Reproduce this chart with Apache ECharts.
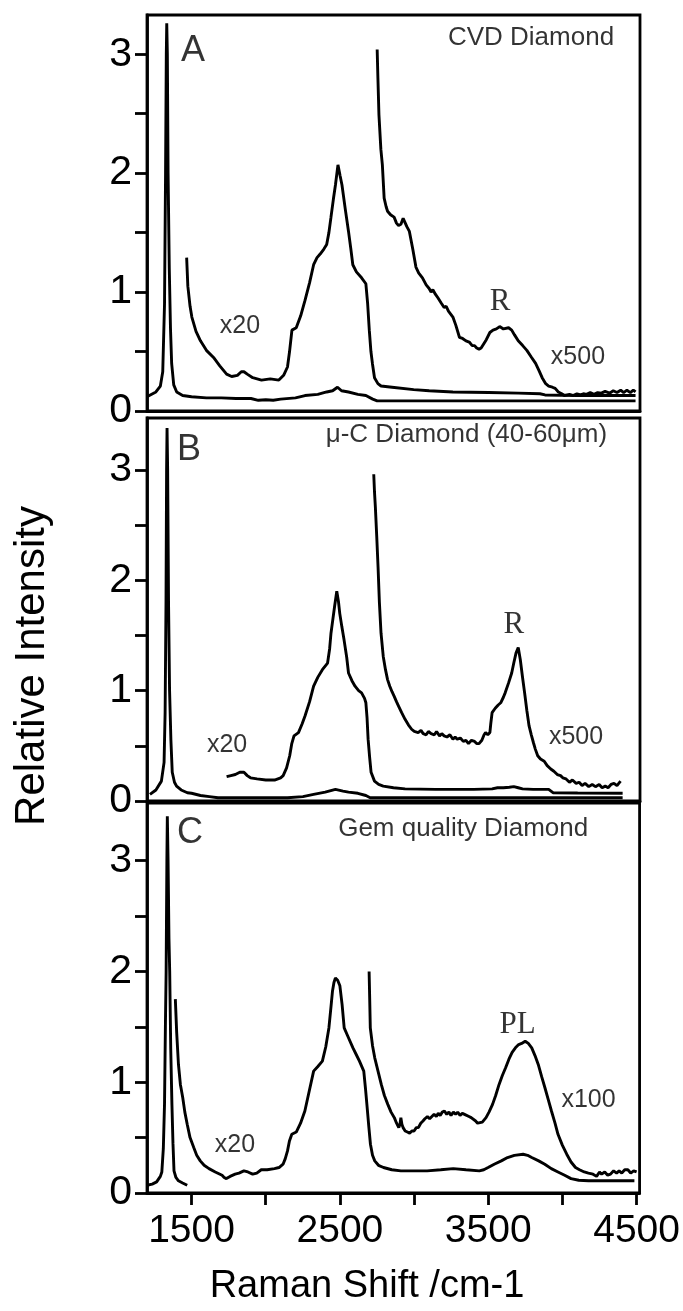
<!DOCTYPE html>
<html>
<head>
<meta charset="utf-8">
<script src="https://cdn.jsdelivr.net/npm/echarts@6/dist/echarts.min.js"></script>
<style>
  html, body { margin: 0; padding: 0; background: #fff; }
  #chart { width: 683px; height: 1311px; }
</style>
</head>
<body>
<div id="chart"></div>
<script>
// Raman shift axis (cm-1) and tick values
const xRange = [1200, 4520];
const xTicks = [1500, 2000, 2500, 3000, 3500, 4000, 4500];
const xLabels = [1500, 2500, 3500, 4500];
const yTicks = [0, 0.5, 1, 1.5, 2, 2.5, 3];
const yLabels = [0, 1, 2, 3];
const yMax = [3.33, 3.47, 3.52];

// Panel A: CVD diamond
const cvdMain = [[1200,0.12],[1209,0.13],[1260,0.16],[1290,0.21],[1306,0.33],[1318,0.9],[1325,2.0],[1330,3.0],[1333,3.26],[1337,3.0],[1342,2.0],[1350,1.2],[1358,0.7],[1366,0.4],[1380,0.22],[1400,0.16],[1440,0.13],[1500,0.12],[1600,0.11],[1700,0.11],[1800,0.105],[1900,0.105],[1950,0.09],[2000,0.095],[2050,0.09],[2100,0.1],[2200,0.11],[2264,0.13],[2350,0.14],[2410,0.16],[2450,0.17],[2483,0.2],[2510,0.17],[2557,0.16],[2620,0.14],[2674,0.13],[2720,0.1],[2750,0.085],[3000,0.085],[3500,0.085],[4000,0.085],[4490,0.085]];
const cvdX20 = [[1467,1.29],[1475,1.05],[1490,0.88],[1502,0.79],[1530,0.67],[1560,0.59],[1600,0.51],[1648,0.45],[1690,0.38],[1736,0.31],[1770,0.29],[1809,0.30],[1835,0.33],[1853,0.33],[1875,0.31],[1912,0.28],[1971,0.26],[2030,0.27],[2088,0.26],[2120,0.3],[2146,0.37],[2160,0.5],[2176,0.68],[2205,0.70],[2235,0.8],[2264,0.93],[2295,1.08],[2322,1.23],[2345,1.29],[2366,1.32],[2390,1.36],[2410,1.40],[2425,1.5],[2439,1.63],[2455,1.78],[2469,1.90],[2486,2.07],[2500,1.98],[2513,1.90],[2535,1.7],[2557,1.51],[2572,1.37],[2586,1.23],[2610,1.17],[2645,1.12],[2674,1.07],[2686,0.9],[2697,0.68],[2708,0.5],[2718,0.40],[2732,0.28],[2755,0.23],[2776,0.21],[2850,0.20],[2996,0.18],[3100,0.17],[3260,0.16],[3500,0.155],[3700,0.15],[3846,0.145],[3880,0.135],[4100,0.13],[4490,0.13]];
const cvdX500 = [[2750,3.04],[2755,2.8],[2762,2.49],[2775,2.2],[2785,2.07],[2797,1.79],[2810,1.72],[2820,1.68],[2840,1.65],[2864,1.63],[2880,1.58],[2894,1.56],[2910,1.57],[2925,1.62],[2938,1.61],[2950,1.55],[2967,1.51],[2990,1.36],[3011,1.21],[3030,1.16],[3055,1.12],[3080,1.06],[3100,1.03],[3113,1.00],[3125,1.02],[3143,0.98],[3160,0.95],[3180,0.91],[3201,0.87],[3215,0.88],[3230,0.84],[3260,0.79],[3280,0.72],[3304,0.62],[3325,0.61],[3348,0.59],[3370,0.58],[3390,0.55],[3406,0.55],[3420,0.53],[3436,0.52],[3450,0.53],[3465,0.56],[3485,0.6],[3509,0.66],[3530,0.68],[3553,0.69],[3575,0.71],[3600,0.69],[3612,0.70],[3635,0.7],[3656,0.68],[3675,0.64],[3700,0.59],[3730,0.55],[3758,0.51],[3790,0.45],[3817,0.40],[3840,0.34],[3861,0.28],[3885,0.23],[3905,0.21],[3930,0.2],[3949,0.19],[3970,0.16],[3993,0.145],[4010,0.13],[4022,0.126],[4045,0.14],[4070,0.13],[4095,0.145],[4120,0.135],[4139,0.145],[4160,0.14],[4185,0.155],[4210,0.14],[4235,0.155],[4260,0.15],[4285,0.165],[4315,0.15],[4340,0.17],[4365,0.155],[4390,0.175],[4410,0.155],[4432,0.175],[4455,0.155],[4475,0.175],[4490,0.16]];

// Panel B: micro-crystalline diamond
const mcMain = [[1220,0.06],[1260,0.1],[1297,0.18],[1315,0.35],[1322,0.8],[1328,1.8],[1332,3.0],[1335,3.38],[1339,3.0],[1345,1.8],[1352,1.0],[1361,0.55],[1370,0.26],[1385,0.17],[1399,0.135],[1430,0.1],[1472,0.075],[1500,0.07],[1560,0.05],[1620,0.04],[1678,0.03],[2000,0.03],[2146,0.03],[2250,0.04],[2322,0.06],[2400,0.08],[2469,0.105],[2520,0.09],[2557,0.08],[2620,0.07],[2674,0.05],[2703,0.03],[3000,0.03],[3500,0.03],[4000,0.03],[4403,0.03]];
const mcX20 = [[1736,0.22],[1765,0.23],[1795,0.24],[1825,0.26],[1853,0.26],[1875,0.23],[1897,0.21],[1941,0.20],[2000,0.19],[2059,0.19],[2100,0.21],[2117,0.23],[2140,0.3],[2161,0.41],[2175,0.52],[2190,0.59],[2220,0.62],[2245,0.7],[2264,0.77],[2295,0.9],[2322,1.04],[2350,1.12],[2381,1.19],[2416,1.25],[2430,1.38],[2439,1.52],[2452,1.65],[2463,1.76],[2478,1.90],[2490,1.8],[2498,1.70],[2512,1.58],[2527,1.46],[2545,1.3],[2557,1.16],[2580,1.09],[2601,1.04],[2625,1.0],[2645,0.98],[2665,0.93],[2674,0.89],[2682,0.75],[2689,0.56],[2699,0.4],[2709,0.26],[2732,0.18],[2760,0.15],[2791,0.135],[2860,0.12],[2938,0.11],[3143,0.105],[3400,0.105],[3524,0.11],[3560,0.12],[3600,0.12],[3640,0.125],[3670,0.13],[3700,0.12],[3729,0.11],[3800,0.105],[3905,0.105],[3934,0.075],[4100,0.072],[4403,0.07]];
const mcX500 = [[2727,2.96],[2732,2.8],[2738,2.66],[2747,2.4],[2756,2.12],[2765,1.8],[2776,1.52],[2791,1.31],[2806,1.19],[2820,1.1],[2835,1.04],[2850,0.99],[2864,0.95],[2880,0.9],[2894,0.86],[2915,0.8],[2938,0.74],[2960,0.69],[2982,0.65],[3000,0.63],[3026,0.62],[3045,0.64],[3060,0.61],[3080,0.6],[3095,0.63],[3113,0.61],[3135,0.6],[3150,0.63],[3170,0.59],[3185,0.61],[3201,0.59],[3220,0.58],[3240,0.6],[3260,0.56],[3275,0.58],[3289,0.56],[3310,0.57],[3330,0.54],[3348,0.55],[3365,0.52],[3385,0.55],[3406,0.54],[3420,0.52],[3436,0.52],[3455,0.55],[3470,0.6],[3480,0.62],[3495,0.6],[3509,0.62],[3515,0.7],[3524,0.80],[3545,0.84],[3565,0.87],[3582,0.89],[3600,0.94],[3612,0.98],[3635,1.07],[3656,1.16],[3670,1.25],[3685,1.34],[3700,1.39],[3714,1.28],[3728,1.13],[3743,0.98],[3758,0.82],[3773,0.68],[3788,0.6],[3802,0.53],[3815,0.47],[3831,0.41],[3850,0.38],[3875,0.36],[3895,0.32],[3919,0.29],[3940,0.27],[3963,0.24],[3985,0.23],[4000,0.21],[4022,0.20],[4045,0.17],[4065,0.19],[4090,0.16],[4110,0.17],[4130,0.14],[4150,0.16],[4175,0.13],[4198,0.15],[4220,0.13],[4245,0.15],[4265,0.12],[4286,0.135],[4305,0.12],[4325,0.15],[4345,0.16],[4365,0.14],[4389,0.18]];

// Panel C: gem quality diamond
const gemMain = [[1200,0.07],[1235,0.08],[1265,0.10],[1290,0.15],[1300,0.19],[1310,0.4],[1318,0.80],[1324,1.5],[1329,2.0],[1334,3.0],[1337,3.4],[1342,3.0],[1348,2.3],[1353,2.0],[1360,1.3],[1368,0.80],[1375,0.45],[1382,0.20],[1395,0.14],[1412,0.11],[1440,0.09],[1471,0.07]];
const gemX20 = [[1391,1.75],[1400,1.45],[1412,1.16],[1425,0.98],[1441,0.86],[1455,0.73],[1471,0.62],[1490,0.5],[1515,0.41],[1535,0.34],[1559,0.29],[1585,0.25],[1618,0.22],[1660,0.19],[1706,0.16],[1720,0.14],[1735,0.13],[1760,0.15],[1794,0.17],[1820,0.18],[1853,0.20],[1880,0.19],[1912,0.17],[1940,0.18],[1970,0.21],[2010,0.21],[2059,0.22],[2090,0.23],[2117,0.26],[2132,0.31],[2147,0.38],[2160,0.47],[2176,0.53],[2206,0.55],[2235,0.63],[2264,0.74],[2295,0.93],[2323,1.10],[2350,1.14],[2382,1.19],[2405,1.32],[2426,1.49],[2440,1.68],[2450,1.82],[2460,1.9],[2470,1.94],[2485,1.92],[2500,1.87],[2515,1.7],[2529,1.49],[2555,1.41],[2588,1.31],[2610,1.25],[2632,1.19],[2661,1.10],[2672,0.95],[2682,0.80],[2695,0.6],[2706,0.44],[2720,0.34],[2735,0.29],[2760,0.25],[2794,0.23],[2850,0.21],[2911,0.20],[3000,0.2],[3088,0.20],[3180,0.21],[3264,0.22],[3350,0.21],[3440,0.20],[3470,0.21],[3499,0.23],[3540,0.26],[3588,0.29],[3630,0.32],[3676,0.34],[3735,0.35],[3765,0.34],[3793,0.32],[3840,0.29],[3881,0.26],[3925,0.22],[3970,0.19],[4015,0.16],[4058,0.13],[4110,0.115],[4176,0.11],[4323,0.11],[4485,0.11]];
const gemX100 = [[2697,2.0],[2701,1.75],[2705,1.49],[2720,1.33],[2735,1.22],[2757,1.1],[2779,0.98],[2800,0.88],[2823,0.80],[2845,0.73],[2867,0.68],[2882,0.63],[2897,0.59],[2905,0.62],[2911,0.68],[2918,0.62],[2926,0.59],[2940,0.56],[2955,0.55],[2970,0.54],[2985,0.56],[3000,0.56],[3015,0.59],[3029,0.59],[3045,0.63],[3060,0.65],[3073,0.67],[3090,0.69],[3105,0.67],[3117,0.68],[3135,0.71],[3150,0.69],[3163,0.72],[3176,0.70],[3190,0.73],[3205,0.74],[3220,0.71],[3235,0.73],[3249,0.70],[3265,0.73],[3280,0.71],[3294,0.73],[3310,0.70],[3325,0.72],[3340,0.71],[3352,0.71],[3370,0.69],[3385,0.68],[3396,0.67],[3415,0.65],[3428,0.63],[3440,0.62],[3460,0.64],[3485,0.68],[3505,0.73],[3529,0.80],[3550,0.88],[3573,0.98],[3595,1.06],[3617,1.13],[3640,1.21],[3661,1.27],[3683,1.31],[3705,1.34],[3725,1.35],[3749,1.37],[3770,1.35],[3793,1.31],[3815,1.24],[3837,1.16],[3860,1.05],[3882,0.95],[3905,0.84],[3926,0.74],[3950,0.63],[3970,0.53],[4000,0.43],[4029,0.35],[4058,0.28],[4088,0.23],[4115,0.21],[4147,0.19],[4175,0.18],[4206,0.17],[4230,0.15],[4250,0.19],[4264,0.17],[4285,0.19],[4305,0.16],[4323,0.17],[4345,0.2],[4365,0.18],[4382,0.20],[4400,0.18],[4420,0.21],[4441,0.21],[4460,0.18],[4480,0.2],[4500,0.19]];

// Text annotations per panel: [text, x, y, kind]
const notesA = [['A',1510,3.03,'letter'],['CVD Diamond',3786,3.14,'title'],['x20',1826,0.71,'gain'],['R',3577,0.92,'peak'],['x500',4102,0.45,'gain']];
const notesB = [['B',1483,3.18,'letter'],['\u03bc-C Diamond (40-60\u03bcm)',3351,3.32,'title'],['x20',1739,0.51,'gain'],['R',3671,1.60,'peak'],['x500',4089,0.58,'gain']];
const notesC = [['C',1490,3.25,'letter'],['Gem quality Diamond',3331,3.29,'title'],['x20',1793,0.43,'gain'],['PL',3698,1.52,'peak'],['x100',4176,0.84,'gain']];

const SANS = '"Liberation Sans", Arial, Helvetica, sans-serif';
const SERIF = '"Liberation Serif", "Times New Roman", serif';
const INK = '#000';

const noteStyle = {
  letter: { fontSize: 36, fontFamily: SANS },
  title: { fontSize: 26, fontFamily: SANS },
  gain: { fontSize: 25, fontFamily: SANS },
  peak: { fontSize: 31, fontFamily: SERIF }
};

const panelTops = [15, 418, 803];
const panelHeights = [396, 383, 390];

const grids = panelTops.map((t, i) => ({
  left: 147, right: 43, top: t, height: panelHeights[i],
  show: true, borderColor: '#000', borderWidth: 2.8, backgroundColor: 'transparent'
}));

const xAxes = [0, 1, 2].map(i => ({
  type: 'value', gridIndex: i, min: xRange[0], max: xRange[1],
  axisLine: { show: true, lineStyle: { color: '#000', width: 2.8 } },
  axisTick: { show: i === 2, length: 12, inside: false, lineStyle: { color: '#000', width: 2.8 }, customValues: xTicks },
  axisLabel: { show: i === 2, customValues: xLabels, formatter: v => String(v), fontSize: 39, color: '#000', fontFamily: SANS, margin: 19 },
  splitLine: { show: false }
}));

const yAxes = [0, 1, 2].map(i => ({
  type: 'value', gridIndex: i, min: 0, max: yMax[i],
  axisLine: { show: true, lineStyle: { color: '#000', width: 2.8 } },
  axisTick: { show: true, length: 12, inside: false, lineStyle: { color: '#000', width: 2.8 }, customValues: yTicks },
  axisLabel: { show: true, customValues: yLabels, formatter: v => String(v), fontSize: 41, color: '#000', fontFamily: SANS, margin: 15 },
  splitLine: { show: false }
}));

function spectrum(data, i) {
  return {
    type: 'line', xAxisIndex: i, yAxisIndex: i, data: data,
    showSymbol: false, symbol: 'none', clip: true, smooth: false,
    lineStyle: { color: INK, width: 2.9 }, silent: true
  };
}

function notes(list, i) {
  return {
    type: 'scatter', xAxisIndex: i, yAxisIndex: i, symbolSize: 0, silent: true,
    data: list.map(n => ({
      name: n[0], value: [n[1], n[2]],
      label: Object.assign({ show: true, position: 'inside', formatter: '{b}', color: '#000' }, noteStyle[n[3]])
    }))
  };
}

const chart = echarts.init(document.getElementById('chart'), null, { renderer: 'canvas' });
chart.setOption({
  animation: false,
  backgroundColor: '#fff',
  grid: grids,
  xAxis: xAxes,
  yAxis: yAxes,
  series: [
    spectrum(cvdMain, 0), spectrum(cvdX20, 0), spectrum(cvdX500, 0), notes(notesA, 0),
    spectrum(mcMain, 1), spectrum(mcX20, 1), spectrum(mcX500, 1), notes(notesB, 1),
    spectrum(gemMain, 2), spectrum(gemX20, 2), spectrum(gemX100, 2), notes(notesC, 2)
  ],
  graphic: [
    {
      type: 'text', x: 32, y: 666, rotation: Math.PI / 2,
      style: { text: 'Relative Intensity', font: '42px ' + SANS, fill: '#000', textAlign: 'center', textVerticalAlign: 'middle' }
    },
    {
      type: 'text', x: 367, y: 1287,
      style: { text: 'Raman Shift /cm-1', font: '38px ' + SANS, fill: '#000', textAlign: 'center', textVerticalAlign: 'middle' }
    }
  ]
});
</script>
</body>
</html>
